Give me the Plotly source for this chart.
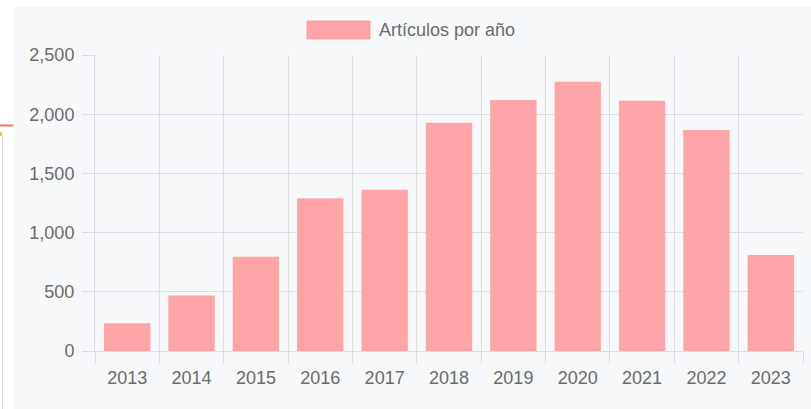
import plotly.graph_objects as go

# ---- data ----
years = ["2013", "2014", "2015", "2016", "2017", "2018", "2019", "2020", "2021", "2022", "2023"]
articles = [234, 469, 797, 1290, 1362, 1928, 2120, 2275, 2114, 1866, 811]
series_name = "Artículos por año"

# ---- layout constants ----
W, H = 811, 409
ML, MR, MT, MB = 95, 8, 55, 58
PW, PH = W - ML - MR, H - MT - MB

def px_x(x):
    return (x - ML) / PW

def px_y(y):
    return 1 - (y - MT) / PH

BAR = "#ffa4a7"
GRID = "#dcdee2"
PANEL = "#f7f8fa"
TXT = "#6b6b6b"
FONT = "Liberation Sans, Arial, Helvetica, sans-serif"

fig = go.Figure()
fig.add_trace(go.Bar(
    x=years, y=articles, name=series_name,
    marker=dict(color=BAR, line=dict(width=0)),
    showlegend=False,
    hoverinfo="x+y",
))

shapes = [
    # grey panel
    dict(type="rect", xref="paper", yref="paper",
         x0=px_x(14), x1=px_x(W + 5), y0=px_y(H + 5), y1=px_y(7),
         fillcolor=PANEL, line=dict(width=0), layer="below"),
    # page decorations on the left edge
    dict(type="line", xref="paper", yref="paper",
         x0=px_x(0), x1=px_x(13.5), y0=px_y(125.5), y1=px_y(125.5),
         line=dict(color="#f07a6a", width=2)),
    dict(type="line", xref="paper", yref="paper",
         x0=px_x(2.5), x1=px_x(2.5), y0=px_y(135), y1=px_y(H + 5),
         line=dict(color="#d8dce4", width=1)),
    dict(type="rect", xref="paper", yref="paper",
         x0=px_x(0), x1=px_x(2), y0=px_y(136), y1=px_y(132),
         fillcolor="#f5c242", line=dict(width=0)),
    # legend swatch
    dict(type="rect", xref="paper", yref="paper",
         x0=px_x(307), x1=px_x(370), y0=px_y(39), y1=px_y(21),
         fillcolor=BAR, line=dict(color="#ff9ea1", width=1)),
]

fig.update_layout(
    width=W, height=H,
    margin=dict(l=ML, r=MR, t=MT, b=MB, pad=0),
    paper_bgcolor="white",
    plot_bgcolor=PANEL,
    font=dict(family=FONT, size=18, color=TXT),
    bargap=0.28,
    showlegend=False,
    shapes=shapes,
    annotations=[dict(
        text=series_name, xref="paper", yref="paper",
        x=px_x(377), y=px_y(30), xanchor="left", yanchor="middle",
        showarrow=False, font=dict(family=FONT, size=18, color=TXT),
    )],
    xaxis=dict(
        type="category",
        tickson="boundaries",
        ticks="outside", ticklen=12, tickcolor=GRID, tickwidth=1,
        showgrid=True, gridcolor=GRID, gridwidth=1,
        showline=True, linecolor=GRID, linewidth=1,
        tickfont=dict(family=FONT, size=18, color=TXT),
        ticklabelstandoff=10,
        fixedrange=True,
    ),
    yaxis=dict(
        range=[0, 2500],
        tickvals=[0, 500, 1000, 1500, 2000, 2500],
        tickformat=",",
        ticks="outside", ticklen=12, tickcolor=GRID, tickwidth=1,
        showgrid=True, gridcolor=GRID, gridwidth=1,
        zeroline=True, zerolinecolor=GRID, zerolinewidth=1,
        showline=True, linecolor=GRID, linewidth=1,
        tickfont=dict(family=FONT, size=18, color=TXT),
        ticklabelstandoff=4,
        fixedrange=True,
    ),
)

fig.write_html("out.html")
